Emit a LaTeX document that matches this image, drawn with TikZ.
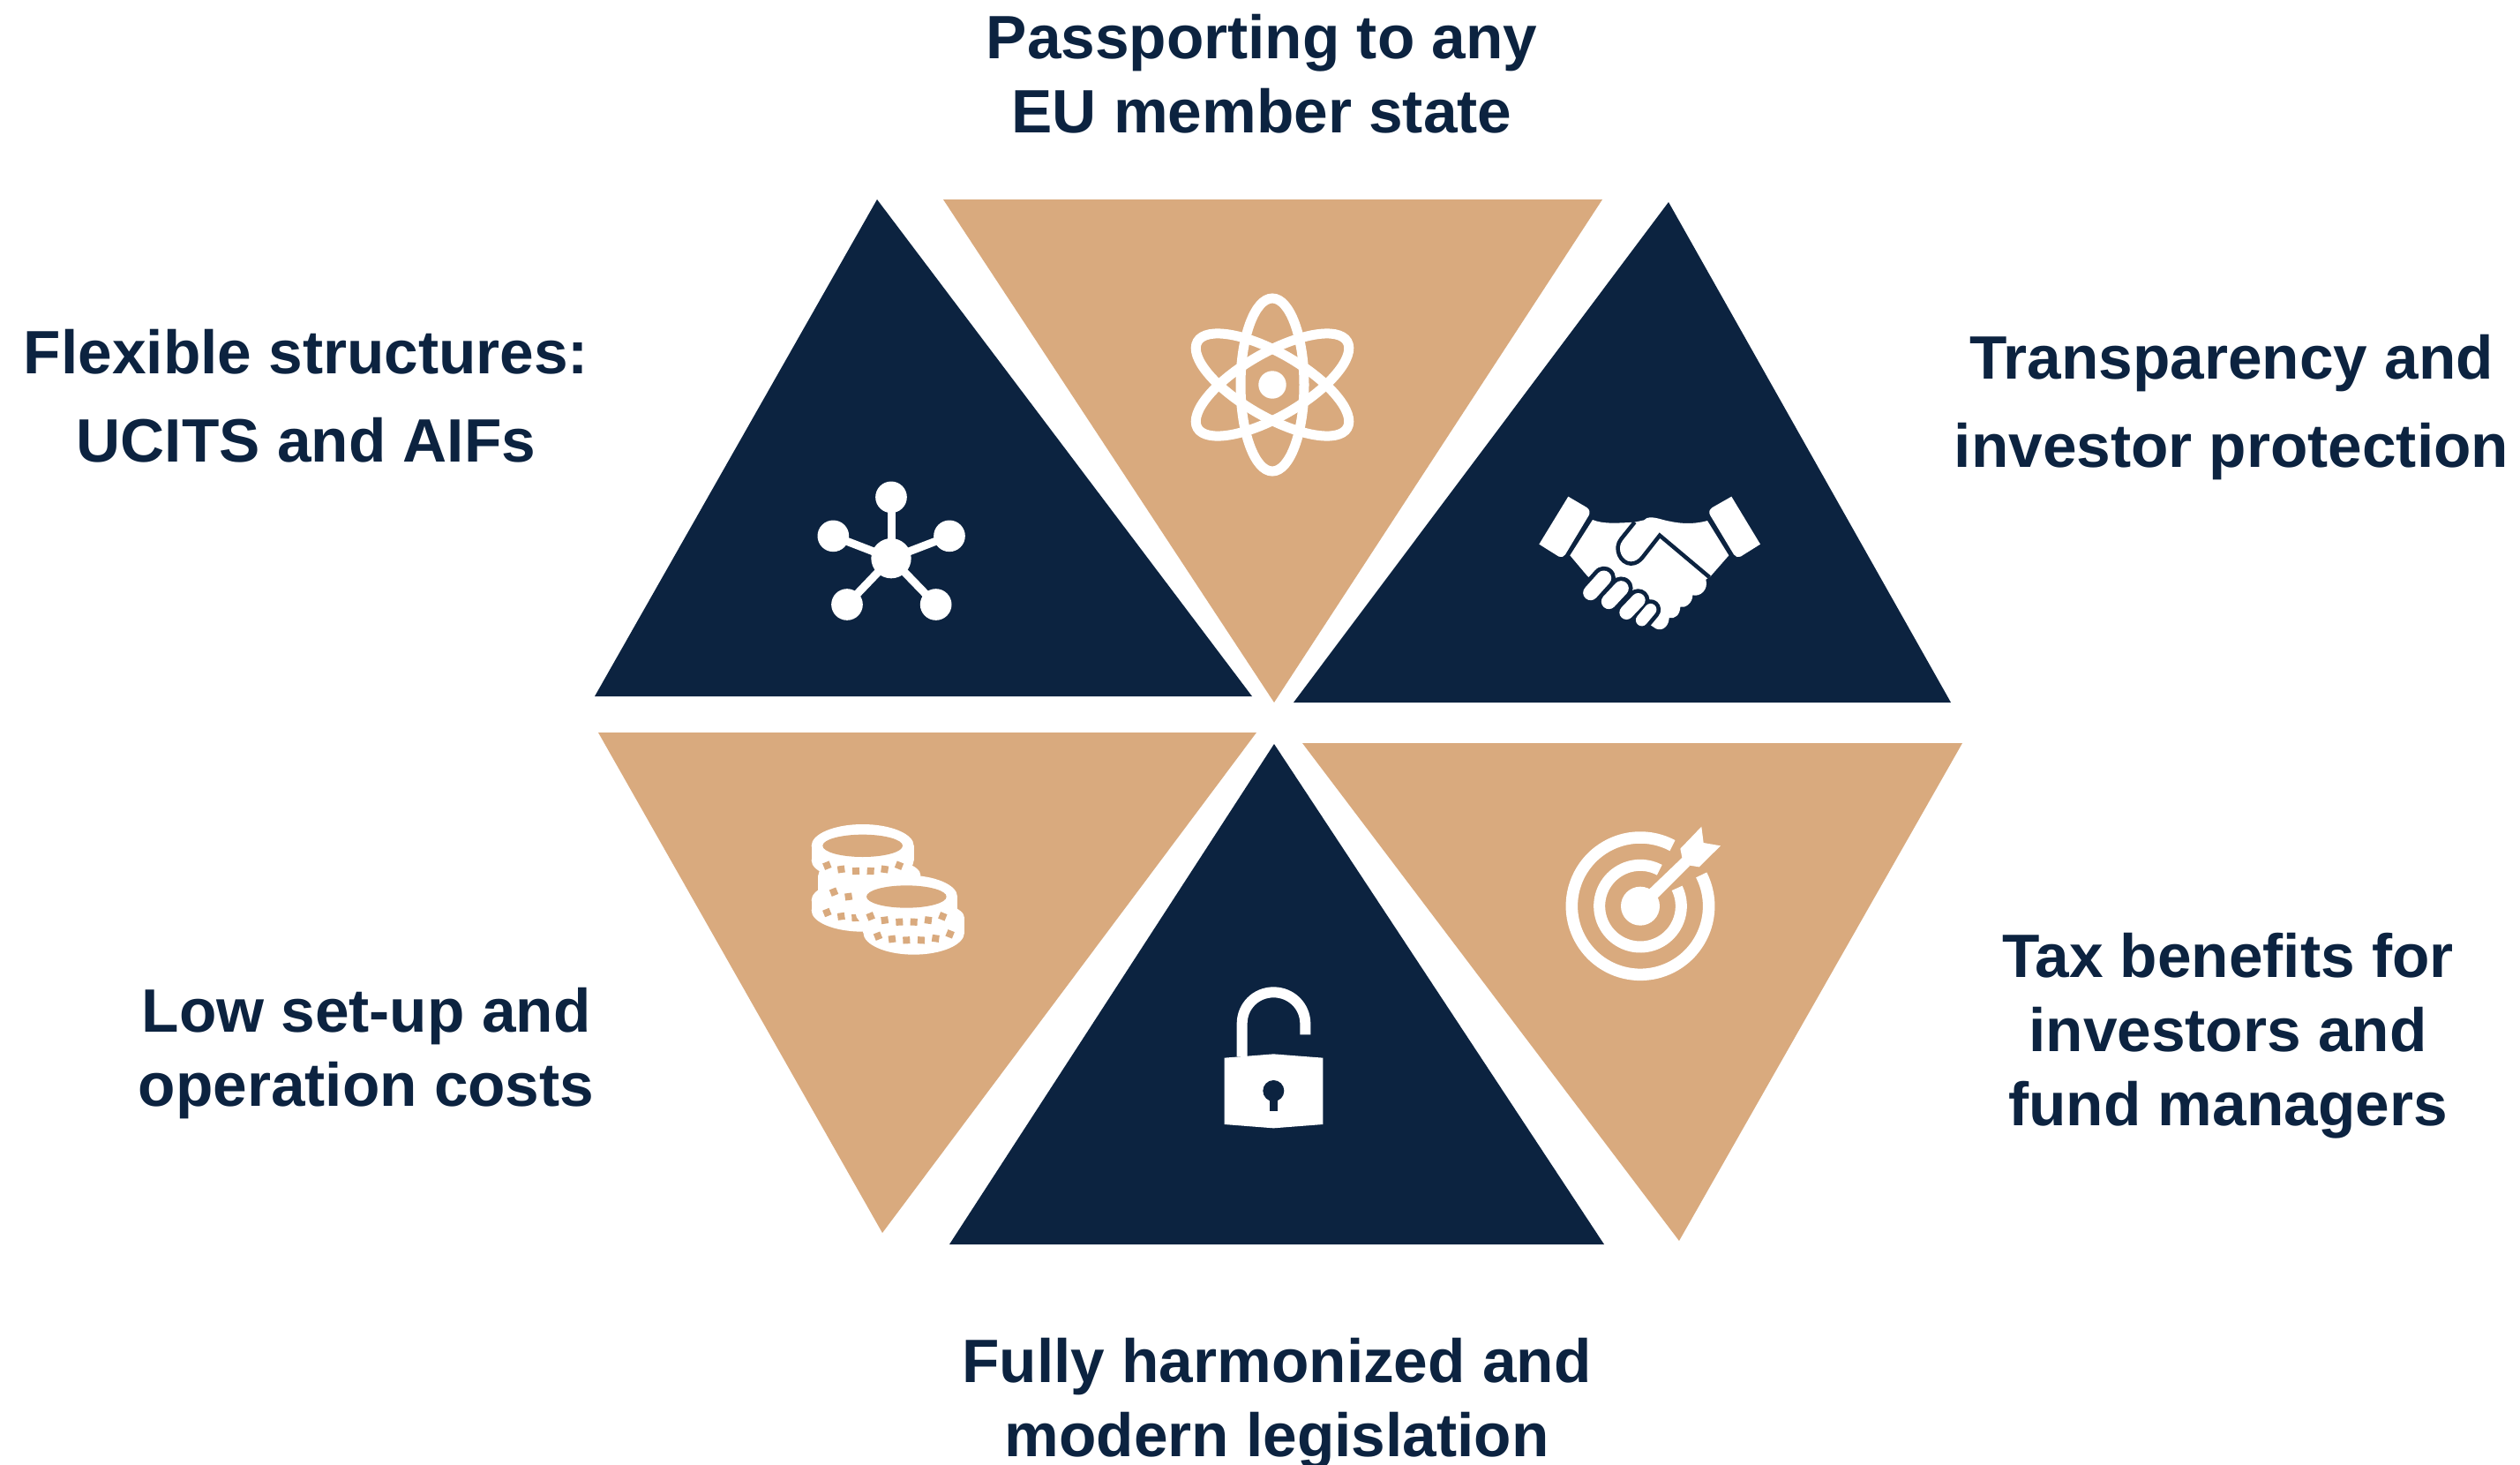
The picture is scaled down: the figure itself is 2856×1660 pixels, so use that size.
\documentclass[tikz,border=0pt]{standalone}
\usepackage{fontspec}
\setmainfont{Liberation Sans}
\definecolor{navyc}{HTML}{0C2340}
\definecolor{tanc}{HTML}{D9AA7E}
\def\pxu{0.28453pt}
\tikzset{
  tri navy/.style={fill=navyc},
  tri tan/.style={fill=tanc},
  icon/.style={white,line width=#1*\pxu},
  icon/.default=10,
  lab/.style={text=navyc,align=center,inner sep=0pt,font=\bfseries\fontsize{19.73}{23.9}\selectfont},
  labwide/.style={text=navyc,align=center,inner sep=0pt,font=\bfseries\fontsize{19.73}{28.45}\selectfont},
}
\begin{document}
\begin{tikzpicture}[x=0.01cm,y=-0.01cm]
\useasboundingbox (0,0) rectangle (2856,1660);
\fill[white] (0,0) rectangle (2856,1660);
% triangles
\fill[tri tan] (1069,226) -- (1816,226) -- (1444,796) -- cycle;
\fill[tri navy] (994,226) -- (1419,789) -- (674,789) -- cycle;
\fill[tri navy] (1891,229) -- (2211,796) -- (1466,796) -- cycle;
\fill[tri tan] (678,830) -- (1424,830) -- (1000,1397) -- cycle;
\fill[tri navy] (1444,843) -- (1818,1410) -- (1076,1410) -- cycle;
\fill[tri tan] (1476,842) -- (2224,842) -- (1903,1406) -- cycle;
% atom
\begin{scope}
\coordinate (atom) at (1442,436);
\draw[icon=11] (atom) ellipse [x radius=36,y radius=98];
\draw[icon=11,rotate around={60:(atom)}] (atom) ellipse [x radius=36,y radius=98];
\draw[icon=11,rotate around={-60:(atom)}] (atom) ellipse [x radius=36,y radius=98];
\fill[white] (atom) circle [radius=15.7];
\end{scope}
% network
\begin{scope}[shift={(900,520)},scale=1/3]
\foreach \a/\b in {330/130,133/262,528/262,180/495,482/495}{
  \draw[icon=9] (330,338) -- (\a,\b);
  \fill[white] (\a,\b) circle [radius=53.5];
}
\fill[white] (330,338) circle [radius=68];
\end{scope}
% handshake
\begin{scope}[shift={(1700,540)},scale=1/3]
\fill[white] (232,68) -- (295,105) .. controls (305,112) and (307,122) .. (302,132) -- (222,265) .. controls (217,273) and (208,276) .. (200,272) -- (133,230) -- cycle;
\fill[white] (787,68) -- (885,230) -- (818,272) .. controls (810,276) and (800,273) .. (795,265) -- (715,132) .. controls (708,122) and (712,112) .. (722,105) -- cycle;
\fill[white] (315,147) .. controls (350,162) and (400,158) .. (458,155) -- (490,148)
  .. controls (500,135) and (520,138) .. (540,143) .. controls (600,160) and (650,165) .. (705,150)
  -- (778,268) -- (715,340) -- (700,350) .. controls (710,385) and (680,410) .. (655,403)
  .. controls (655,430) and (630,448) .. (613,443) .. controls (612,470) and (595,485) .. (575,480)
  .. controls (575,505) and (555,528) .. (530,517) -- (512,505) -- (400,420) -- (297,338) -- (238,268) -- cycle;
\foreach \a/\b/\c/\d/\w in {308/395/353/345/17,370/425/412/380/17,430/462/470/420/16,482/488/512/452/13.5}{
  \draw[navyc,line cap=round,line width=(\w+9.5)*\pxu] (\a,\b) -- (\c,\d);
}
\foreach \a/\b/\c/\d/\w in {308/395/353/345/17,370/425/412/380/17,430/462/470/420/16,482/488/512/452/13.5}{
  \draw[white,line cap=round,line width=\w*\pxu] (\a,\b) -- (\c,\d);
}
\draw[navyc,line width=4.5*\pxu,line join=miter] (458,155) -- (412,212) .. controls (385,245) and (410,296) .. (445,296) .. controls (462,296) and (475,287) .. (485,274) -- (543,200) -- (712,342);
\end{scope}
% coins
\begin{scope}[shift={(900,920)},scale=1/3]
\newcommand\coincyl[6]{%
  \fill[white] (#1,#2) ellipse [x radius=#3,y radius=#4];
  \fill[white] (#1,#5) ellipse [x radius=#3,y radius=#6];
  \fill[white] (#1-#3,#2) rectangle (#1+#3,#5);
}
\coincyl{233}{335}{174}{72}{300}{70}
\coincyl{256}{215}{174}{60}{300}{60}
\coincyl{233}{115}{174}{73}{165}{68}
\foreach \a/\b/\r in {112/182/22,160/195/8,210/201/3,260/201/-3,308/195/-8,357/182/-22,135/272/22,185/288/8,112/342/22,160/355/8,208/360/3}{
  \fill[tanc,shift={(\a,\b)},rotate=\r] (-12,-12) rectangle (12,12);
}
\fill[tanc] (233,115) ellipse [x radius=136,y radius=38];
\coincyl{407}{360}{172}{60}{410}{75}
\coincyl{382}{288}{173}{73}{345}{65}
\foreach \a/\b/\r in {260/355/22,308/368/8,358/374/3,407/374/-3,456/368/-8,505/355/-22,285/422/22,333/432/8,382/436/3,432/436/-3,481/430/-8,530/415/-22}{
  \fill[tanc,shift={(\a,\b)},rotate=\r] (-12,-12) rectangle (12,12);
}
\fill[tanc] (382,288) ellipse [x radius=136,y radius=38];
\end{scope}
% lock
\begin{scope}[shift={(1360,1100)},scale=1/3]
\fill[white] (83,296) -- (250,283) -- (418,296) -- (418,522) -- (250,535) -- (83,522) -- cycle;
\draw[icon=12] (143,292) -- (143,180) .. controls (143,120) and (190,73) .. (250,73) .. controls (310,73) and (358,120) .. (358,180) -- (358,217);
\fill[navyc] (250,408) circle [radius=36];
\fill[navyc] (238,430) rectangle (263,476);
\end{scope}
% target
\begin{scope}[shift={(1760,920)},scale=1/3]
\draw[icon=13.5] plot[smooth,domain=62:387,samples=80] ({297+233*cos(\x)},{320-233*sin(\x)});
\draw[icon=13] plot[smooth,domain=62:386,samples=80] ({297+139*cos(\x)},{320-139*sin(\x)});
\fill[white] (297,320) circle [radius=66];
\fill[white] (328,262) -- (445,150) -- (465,183) -- (358,290) -- (297,320) -- cycle;
\fill[white] (433,125) -- (505,50) -- (512,105) -- (570,115) -- (497,187) -- (465,182) -- (440,160) -- cycle;
\end{scope}
% labels
\node[lab] (passport) at (1430,84) {Passporting to any\\EU member state};
\node[labwide] (flex) at (347,449) {Flexible structures:\\UCITS and AIFs};
\node[labwide] (transp) at (2529,462) {Transparency and\\investor protection};
\node[lab] (lowcost) at (415,1194) {Low set-up and\\operation costs};
\node[lab] (tax) at (2525,1174) {Tax benefits for\\investors and\\fund managers};
\node[lab] (harm) at (1447,1591) {Fully harmonized and\\modern legislation};
\end{tikzpicture}
\end{document}
